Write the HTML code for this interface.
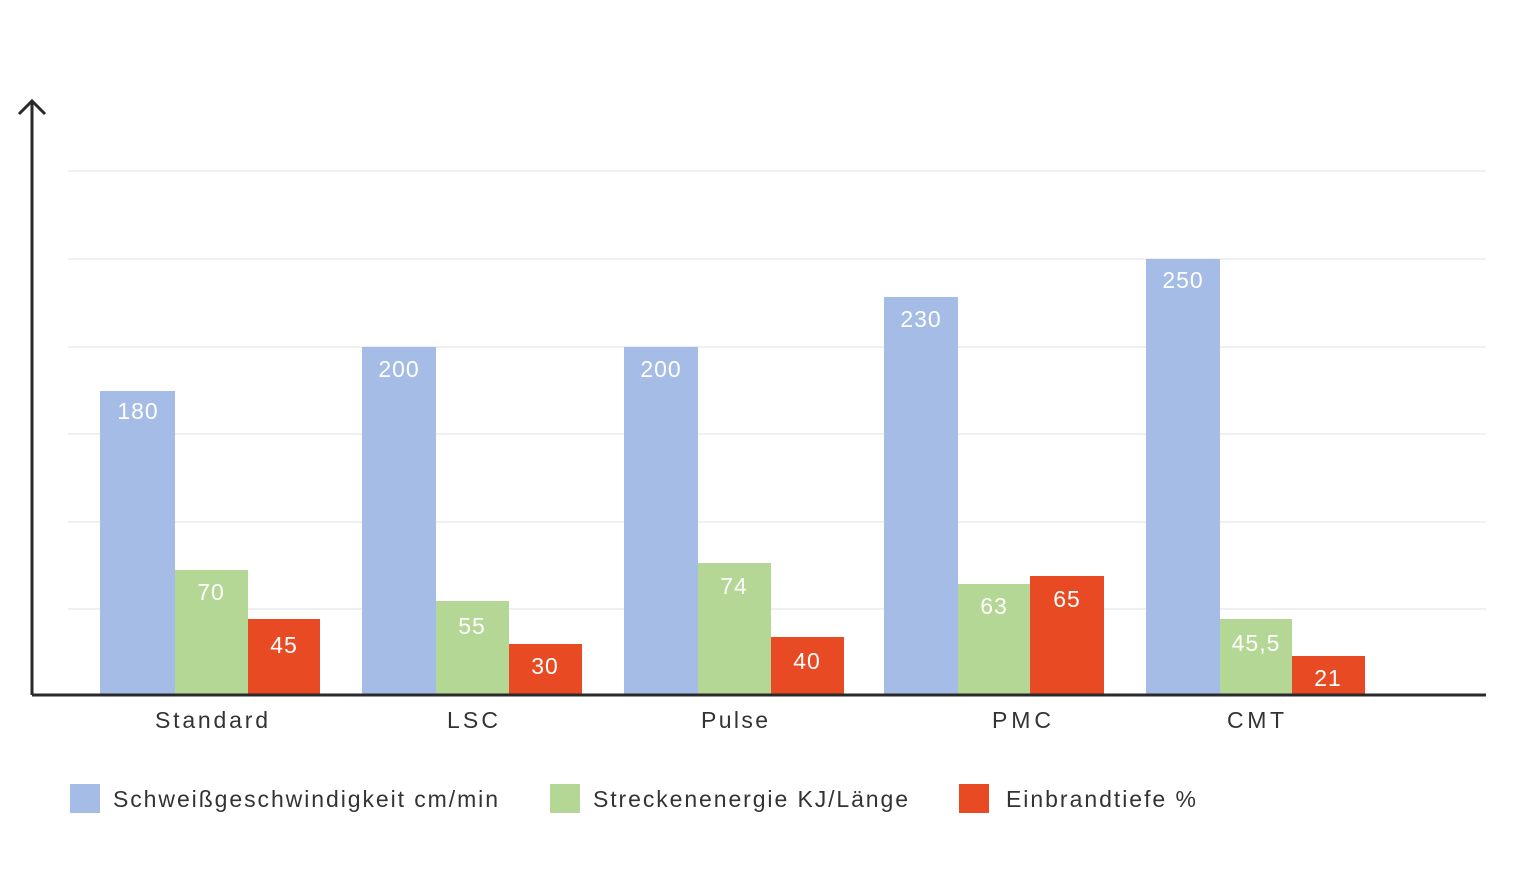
<!DOCTYPE html>
<html><head><meta charset="utf-8"><style>
body{margin:0;background:#fff;}
svg text{font-family:"Liberation Sans",sans-serif;}
</style></head><body>
<svg width="1540" height="866" xmlns="http://www.w3.org/2000/svg">
<g stroke="#ececec" stroke-width="1.5">
<line x1="68" y1="171" x2="1486" y2="171"/><line x1="68" y1="259" x2="1486" y2="259"/>
<line x1="68" y1="347" x2="1486" y2="347"/><line x1="68" y1="434" x2="1486" y2="434"/>
<line x1="68" y1="522" x2="1486" y2="522"/><line x1="68" y1="609" x2="1486" y2="609"/>
</g>
<g fill="#a4bce6">
<rect x="100" y="391" width="75" height="304"/><rect x="362" y="347" width="74" height="348"/>
<rect x="624" y="347" width="74" height="348"/><rect x="884" y="297" width="74" height="398"/>
<rect x="1146" y="259" width="74" height="436"/></g>
<g fill="#b5d795">
<rect x="175" y="570" width="73" height="125"/><rect x="436" y="601" width="73" height="94"/>
<rect x="698" y="563" width="73" height="132"/><rect x="958" y="584" width="72" height="111"/>
<rect x="1220" y="619" width="72" height="76"/></g>
<g fill="#e84a24">
<rect x="248" y="619" width="72" height="76"/><rect x="509" y="644" width="73" height="51"/>
<rect x="771" y="637" width="73" height="58"/><rect x="1030" y="576" width="74" height="119"/>
<rect x="1292" y="656" width="73" height="39"/></g>
<g fill="#fff" font-size="23" text-anchor="middle" letter-spacing="1">
<text x="138" y="419">180</text><text x="399" y="377">200</text><text x="661" y="377">200</text>
<text x="921" y="327">230</text><text x="1183" y="288">250</text>
<text x="211" y="600">70</text><text x="472" y="634">55</text><text x="734" y="594">74</text>
<text x="994" y="614">63</text><text x="1256" y="651">45,5</text>
<text x="284" y="653">45</text><text x="545" y="674">30</text><text x="807" y="669">40</text>
<text x="1067" y="607">65</text><text x="1328" y="686">21</text></g>
<line x1="32" y1="695" x2="1486" y2="695" stroke="#2a2a2a" stroke-width="3"/>
<line x1="32" y1="102" x2="32" y2="695" stroke="#2a2a2a" stroke-width="3"/>
<polyline points="19,114 32,101 45,114" fill="none" stroke="#2a2a2a" stroke-width="3"/>
<g fill="#333" font-size="23">
<text x="155" y="728" textLength="113">Standard</text>
<text x="447" y="728" textLength="51">LSC</text>
<text x="701" y="728" textLength="67">Pulse</text>
<text x="992" y="728" textLength="59">PMC</text>
<text x="1227" y="728" textLength="57">CMT</text></g>
<rect x="70" y="784" width="30" height="29" fill="#a4bce6"/>
<rect x="550" y="784" width="30" height="29" fill="#b5d795"/>
<rect x="959" y="784" width="30" height="29" fill="#e84a24"/>
<g fill="#333" font-size="23">
<text x="113" y="807" textLength="385">Schweißgeschwindigkeit cm/min</text>
<text x="593" y="807" textLength="315">Streckenenergie KJ/Länge</text>
<text x="1006" y="807" textLength="190">Einbrandtiefe %</text></g>
</svg>
</body></html>
